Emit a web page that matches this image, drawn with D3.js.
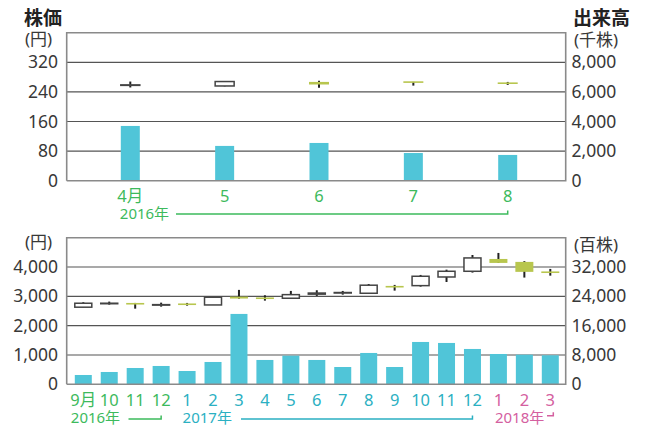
<!DOCTYPE html>
<html>
<head>
<meta charset="utf-8">
<script src="https://cdn.jsdelivr.net/npm/d3@7"></script>
<style>
  body { margin: 0; background: #fff; }
  svg { display: block; font-family: "Noto Sans", "Noto Sans CJK JP", sans-serif; }
</style>
</head>
<body>
<svg id="chart" width="646" height="425"></svg>
<script>
// top panel: 2016 Apr - Aug
var topMonths = ["4月", "5", "6", "7", "8"];
var topOpen  = [259, 256, 267, 267, 264];
var topClose = [259, 268, 260, 266, 263];
var topHigh  = [268, 269, 270, 267, 267];
var topLow   = [252, 255, 251, 257, 259];
var topVolume = [3700, 2350, 2550, 1870, 1740]; // 千株
var topPriceTicks = [0, 80, 160, 240, 320];
var topVolTicks = [0, 2000, 4000, 6000, 8000];

// bottom panel: 2016 Sep - 2018 Mar
var botMonths = ["9月", "10", "11", "12", "1", "2", "3", "4", "5", "6", "7", "8", "9", "10", "11", "12", "1", "2", "3"];
var botYearGroup = [0, 0, 0, 0, 1, 1, 1, 1, 1, 1, 1, 1, 1, 1, 1, 1, 2, 2, 2];
var botOpen  = [2630, 2765, 2775, 2717, 2735, 2706, 2990, 2940, 2935, 3075, 3115, 3105, 3335, 3365, 3660, 3855, 4275, 4175, 3830];
var botClose = [2765, 2765, 2720, 2717, 2725, 2970, 2925, 2930, 3058, 3112, 3130, 3380, 3322, 3685, 3855, 4310, 4140, 3835, 3815];
var botHigh  = [2800, 2820, 2775, 2785, 2775, 2970, 3220, 3037, 3185, 3208, 3184, 3420, 3390, 3730, 3910, 4410, 4480, 4200, 3935];
var botLow   = [2630, 2717, 2580, 2648, 2683, 2706, 2920, 2853, 2935, 3014, 3058, 3105, 3195, 3330, 3490, 3810, 4140, 3640, 3705];
var botVolume = [2540, 3360, 4450, 5000, 3630, 6090, 19200, 6640, 7810, 6640, 4720, 8550, 4720, 11550, 11280, 9640, 8270, 8080, 7920]; // 百株
var botPriceTicks = [0, 1000, 2000, 3000, 4000];
var botVolTicks = [0, 8000, 16000, 24000, 32000];

var yearNames = ["2016年", "2017年", "2018年"];
var yearColors = ["#3dba5c", "#2bb0c2", "#d4609f"];

var barColor = "#50c5d8";
var downColor = "#b8c64e";
var gridColor = "#555";
var frameColor = "#8a8a8a";
var textColor = "#383838";

var svg = d3.select("#chart");
var left = 66.7, right = 565.7;

function fmt(v){ return d3.format(",")(v); }

function drawPanel(cfg){
  var g = svg.append("g");
  var yP = d3.scaleLinear().domain([0, cfg.priceMax]).range([cfg.y0, cfg.y1]);
  var yV = d3.scaleLinear().domain([0, cfg.volMax]).range([cfg.y0, cfg.y1]);
  var x = d3.scalePoint().domain(d3.range(cfg.months.length)).range(cfg.xRange);

  // gridlines
  g.selectAll(".grid").data(cfg.priceTicks.slice(1)).enter().append("line")
    .attr("x1", left).attr("x2", right)
    .attr("y1", function(d){ return yP(d); }).attr("y2", function(d){ return yP(d); })
    .attr("stroke", gridColor).attr("stroke-width", 1.2);

  // volume bars
  g.selectAll(".bar").data(cfg.volume).enter().append("rect")
    .attr("x", function(d, i){ return x(i) - cfg.barW / 2; })
    .attr("width", cfg.barW)
    .attr("y", function(d){ return yV(d); })
    .attr("height", function(d){ return cfg.y0 - yV(d); })
    .attr("fill", barColor);

  // frame
  g.append("path")
    .attr("d", "M" + left + "," + cfg.y0 + "V" + cfg.y1 + "H" + right + "V" + cfg.y0 + "H" + left)
    .attr("fill", "none").attr("stroke", frameColor).attr("stroke-width", 1.6);

  // candles
  cfg.months.forEach(function(m, i){
    var o = cfg.open[i], c = cfg.close[i];
    g.append("line")
      .attr("x1", x(i)).attr("x2", x(i))
      .attr("y1", yP(cfg.high[i])).attr("y2", yP(cfg.low[i]))
      .attr("stroke", "#222").attr("stroke-width", 2);
    var top = yP(Math.max(o, c)), bot = yP(Math.min(o, c));
    if(c >= o){
      g.append("rect")
        .attr("x", x(i) - cfg.barW / 2).attr("width", cfg.barW)
        .attr("y", top).attr("height", Math.max(bot - top, 0.5))
        .attr("fill", "#fff").attr("stroke", "#444").attr("stroke-width", 1.5);
    }else{
      var h = Math.max(bot - top, 1.6);
      g.append("rect")
        .attr("x", x(i) - cfg.barW / 2 - 0.5).attr("width", cfg.barW + 1)
        .attr("y", (top + bot) / 2 - h / 2).attr("height", h)
        .attr("fill", downColor);
    }
  });

  // left ticks
  g.selectAll(".lt").data(cfg.priceTicks).enter().append("text")
    .attr("x", 58).attr("y", function(d){ return yP(d); })
    .attr("dy", "0.35em").attr("text-anchor", "end")
    .attr("font-size", 17.5).attr("fill", textColor)
    .text(fmt);
  // right ticks
  g.selectAll(".rt").data(cfg.volTicks).enter().append("text")
    .attr("x", 571.5).attr("y", function(d){ return yV(d); })
    .attr("dy", "0.35em").attr("text-anchor", "start")
    .attr("font-size", 17.5).attr("fill", textColor)
    .text(fmt);

  // month labels
  g.selectAll(".ml").data(cfg.months).enter().append("text")
    .attr("x", function(d, i){ return x(i); })
    .attr("y", cfg.monthY)
    .attr("text-anchor", "middle")
    .attr("font-size", 16.5)
    .attr("fill", function(d, i){ return yearColors[cfg.group[i]]; })
    .text(function(d){ return d; });

  return x;
}

// titles
svg.append("text").attr("x", 24).attr("y", 25).attr("font-size", 19).attr("font-weight", "bold")
  .attr("fill", "#222").text("株価");
svg.append("text").attr("x", 25).attr("y", 45).attr("font-size", 17).attr("fill", textColor).text("(円)");
svg.append("text").attr("x", 573).attr("y", 25).attr("font-size", 19).attr("font-weight", "bold")
  .attr("fill", "#222").text("出来高");
svg.append("text").attr("x", 574).attr("y", 46).attr("font-size", 17).attr("fill", textColor).text("(千株)");
svg.append("text").attr("x", 25).attr("y", 248).attr("font-size", 17).attr("fill", textColor).text("(円)");
svg.append("text").attr("x", 574).attr("y", 251).attr("font-size", 17).attr("fill", textColor).text("(百株)");

var xTop = drawPanel({
  months: topMonths, open: topOpen, close: topClose, high: topHigh, low: topLow,
  volume: topVolume, priceTicks: topPriceTicks, volTicks: topVolTicks,
  priceMax: 400, volMax: 10000, y0: 180.7, y1: 32.7,
  xRange: [130.3, 507.7], barW: 19, monthY: 201.5,
  group: topMonths.map(function(){ return 0; })
});

var xBot = drawPanel({
  months: botMonths, open: botOpen, close: botClose, high: botHigh, low: botLow,
  volume: botVolume, priceTicks: botPriceTicks, volTicks: botVolTicks,
  priceMax: 5000, volMax: 40000, y0: 384.3, y1: 237.7,
  xRange: [83.3, 550.3], barW: 17, monthY: 406,
  group: botYearGroup
});

// year labels with bracket lines
function yearLabel(name, color, tx, ty, lx1, lx2, ly, tickUp){
  svg.append("text").attr("x", tx).attr("y", ty).attr("font-size", 15)
    .attr("fill", color).text(name);
  svg.append("path")
    .attr("d", "M" + lx1 + "," + ly + "H" + lx2 + "V" + (ly - tickUp))
    .attr("fill", "none").attr("stroke", color).attr("stroke-width", 1.5);
}
yearLabel(yearNames[0], yearColors[0], xTop(0) - 10.5, 219, 176, xTop(4), 214, 3.5);
yearLabel(yearNames[0], yearColors[0], xBot(0) - 12.5, 423, 128.5, xBot(3), 419, 3.5);
yearLabel(yearNames[1], yearColors[1], xBot(4) - 4.5, 423, 241, xBot(15), 419, 3.5);
yearLabel(yearNames[2], yearColors[2], xBot(16) - 3.5, 423, 547, xBot(18) + 3, 415.7, 3.5);
</script>
</body>
</html>
